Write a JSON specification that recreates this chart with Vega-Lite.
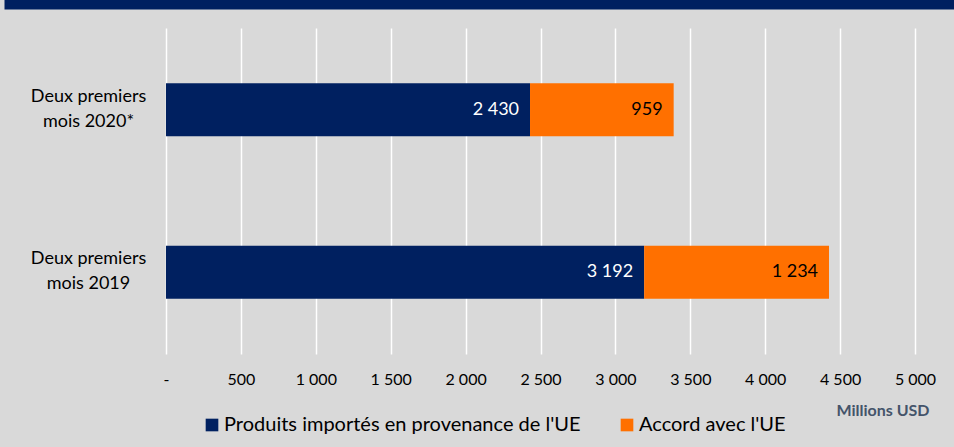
{
  "$schema": "https://vega.github.io/schema/vega-lite/v6.json",
  "background": "#D9D9D9",
  "padding": {"left": 4, "top": 0, "right": 0, "bottom": 20},
  "spacing": 16,
  "config": {
    "view": {"stroke": null},
    "font": "Lato",
    "locale": {"number": {"decimal": ",", "thousands": " ", "grouping": [3], "currency": ["", " $"]}}
  },
  "datasets": {
    "imports": [
      {"periode": "Deux premiers mois 2020*", "serie": "Produits importés en provenance de l'UE", "rang": 1, "valeur": 2430},
      {"periode": "Deux premiers mois 2020*", "serie": "Accord avec l'UE", "rang": 2, "valeur": 959},
      {"periode": "Deux premiers mois 2019", "serie": "Produits importés en provenance de l'UE", "rang": 1, "valeur": 3192},
      {"periode": "Deux premiers mois 2019", "serie": "Accord avec l'UE", "rang": 2, "valeur": 1234}
    ]
  },
  "vconcat": [
    {
      "width": 950,
      "height": 5,
      "data": {"values": [{}]},
      "mark": {"type": "text", "text": ""},
      "encoding": {
        "x": {
          "datum": 0,
          "type": "quantitative",
          "scale": {"domain": [0, 1]},
          "axis": {
            "orient": "top",
            "position": -162,
            "domain": true,
            "domainColor": "#002060",
            "domainWidth": 10,
            "domainCap": "butt",
            "ticks": false,
            "labels": false,
            "grid": false,
            "title": null
          }
        }
      }
    },
    {
      "width": 749,
      "height": 326,
      "data": {"name": "imports"},
      "encoding": {
        "y": {
          "field": "periode",
          "type": "nominal",
          "sort": ["Deux premiers mois 2020*", "Deux premiers mois 2019"],
          "scale": {"paddingInner": 0.673, "paddingOuter": 0.34},
          "axis": {
            "title": null,
            "domain": false,
            "ticks": false,
            "grid": false,
            "labelAlign": "center",
            "labelBaseline": "middle",
            "labelPadding": 78,
            "labelOffset": -13,
            "labelFont": "Lato",
            "labelFontSize": 18,
            "labelLineHeight": 25,
            "labelColor": "#000000",
            "labelExpr": "['Deux premiers', replace(datum.value, 'Deux premiers ', '')]"
          }
        },
        "x": {
          "field": "valeur",
          "type": "quantitative",
          "stack": "zero",
          "scale": {"domain": [0, 5000], "nice": false},
          "axis": {
            "values": [0, 500, 1000, 1500, 2000, 2500, 3000, 3500, 4000, 4500, 5000],
            "domain": false,
            "ticks": false,
            "grid": true,
            "gridColor": "#FFFFFF",
            "gridWidth": 1.5,
            "gridOpacity": 1,
            "labelFlush": false,
            "labelFont": "Lato",
            "labelFontSize": 16,
            "labelColor": "#000000",
            "labelPadding": 17,
            "labelExpr": "datum.value == 0 ? '-' : format(datum.value, ',')",
            "title": "Millions USD",
            "titleFont": "Lato",
            "titleFontSize": 16,
            "titleFontWeight": "bold",
            "titleColor": "#44546A",
            "titleAnchor": "end",
            "titleAlign": "right",
            "titleBaseline": "middle",
            "titleX": 763,
            "titleY": 56
          }
        },
        "order": {"field": "rang", "type": "quantitative"}
      },
      "layer": [
        {
          "mark": {"type": "bar"},
          "encoding": {
            "color": {
              "field": "serie",
              "type": "nominal",
              "sort": ["Produits importés en provenance de l'UE", "Accord avec l'UE"],
              "scale": {
                "domain": ["Produits importés en provenance de l'UE", "Accord avec l'UE"],
                "range": ["#002060", "#FF7000"]
              },
              "legend": {
                "title": null,
                "orient": "none",
                "direction": "horizontal",
                "legendX": 36,
                "legendY": 411,
                "symbolType": "square",
                "symbolSize": 160,
                "symbolStrokeWidth": 0,
                "labelFont": "Lato",
                "labelFontSize": 20,
                "labelColor": "#000000",
                "labelOffset": 2,
                "columnPadding": 36,
                "labelLimit": 600
              }
            }
          }
        },
        {
          "mark": {"type": "text", "align": "right", "baseline": "middle", "dx": -11, "font": "Lato", "fontSize": 18},
          "encoding": {
            "text": {"field": "valeur", "type": "quantitative", "format": ","},
            "color": {
              "condition": {"test": "datum.rang == 2", "value": "#000000"},
              "value": "#FFFFFF"
            }
          }
        }
      ]
    }
  ]
}
